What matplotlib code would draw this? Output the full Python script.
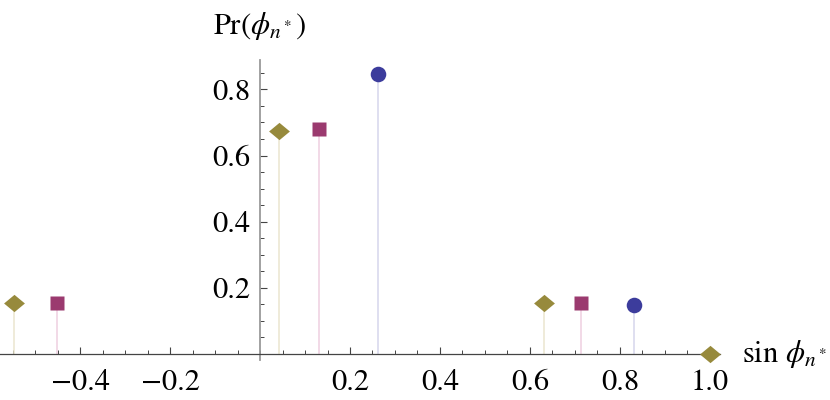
import numpy as np
import matplotlib
matplotlib.use("Agg")
from matplotlib import pyplot as plt
from matplotlib.ticker import FixedLocator

plt.rcParams['font.family'] = ['STIXGeneral', 'Liberation Serif', 'DejaVu Serif']
plt.rcParams['mathtext.fontset'] = 'stix'

# values
circ_x = [0.262, 0.831]
circ_y = [0.846, 0.148]
sq_x = [-0.451, 0.130, 0.713]
sq_y = [0.153, 0.680, 0.153]
dia_x = [-0.547, 0.043, 0.631, 1.0]
dia_y = [0.153, 0.675, 0.153, 0.0]

xticks = [-0.4, -0.2, 0.2, 0.4, 0.6, 0.8, 1.0]
yticks = [0.2, 0.4, 0.6, 0.8]

fig = plt.figure(figsize=(8.3, 4.0), dpi=100)
ax = fig.add_axes([0, 0, 1, 1])
ax.set_xlim(-0.5778, 1.2667)
ax.set_ylim(-0.139, 1.070)
ax.patch.set_alpha(0)

# axes through origin
for s in ['top', 'right']:
    ax.spines[s].set_visible(False)
ax.spines['left'].set_position(('data', 0))
ax.spines['bottom'].set_position(('data', 0))
ax.spines['left'].set_bounds(-0.018, 0.889)
ax.spines['bottom'].set_bounds(-0.578, 1.022)
ax.spines['left'].set_color('#9a9a9a')
ax.spines['left'].set_linewidth(1.3)
ax.spines['bottom'].set_color('#444444')
ax.spines['bottom'].set_linewidth(0.9)

ax.xaxis.set_major_locator(FixedLocator(xticks))
ax.xaxis.set_minor_locator(FixedLocator(np.arange(-0.55, 1.01, 0.05)))
ax.yaxis.set_major_locator(FixedLocator(yticks))
ax.yaxis.set_minor_locator(FixedLocator(np.arange(0.05, 0.86, 0.05)))
ax.set_xticklabels(['\u22120.4', '\u22120.2', '0.2', '0.4', '0.6', '0.8', '1.0'])
ax.set_yticklabels(['0.2', '0.4', '0.6', '0.8'])
ax.tick_params(axis='x', which='major', direction='in', length=5, width=0.8,
               color='#444444', labelsize=22, pad=11)
ax.tick_params(axis='x', which='minor', direction='in', length=3, width=0.7,
               color='#444444')
ax.tick_params(axis='y', which='major', direction='in', length=5, width=0.8,
               color='#444444', labelsize=22, pad=7)
ax.tick_params(axis='y', which='minor', direction='in', length=3, width=0.7,
               color='#444444')

# stems
ax.vlines(circ_x, 0, circ_y, color='#d6d6ec', lw=1.1, zorder=2)
ax.vlines(sq_x, 0, sq_y, color='#efcfe0', lw=1.1, zorder=2)
ax.vlines(dia_x, 0, dia_y, color='#ebe6cf', lw=1.1, zorder=2)

diamond = [(-1, 0), (0, 0.83), (1, 0), (0, -0.83), (-1, 0)]
ax.plot(dia_x, dia_y, ls='none', marker=diamond, ms=15, color='#978a3c',
        mec='none', clip_on=False, zorder=4)
ax.plot(sq_x, sq_y, ls='none', marker='s', ms=9.8, color='#9b3a6f',
        mec='none', clip_on=False, zorder=4)
ax.plot(circ_x, circ_y, ls='none', marker='o', ms=11.2, color='#3c3c9c',
        mec='none', clip_on=False, zorder=4)

ax.text(0, 0.99, r'Pr$(\phi_{n^*})$', fontsize=22, ha='center', va='center')
ax.text(1.072, 0.0, r'sin $\phi_{n^*}$', fontsize=22, ha='left', va='center')

fig.savefig('out.png', dpi=100)
